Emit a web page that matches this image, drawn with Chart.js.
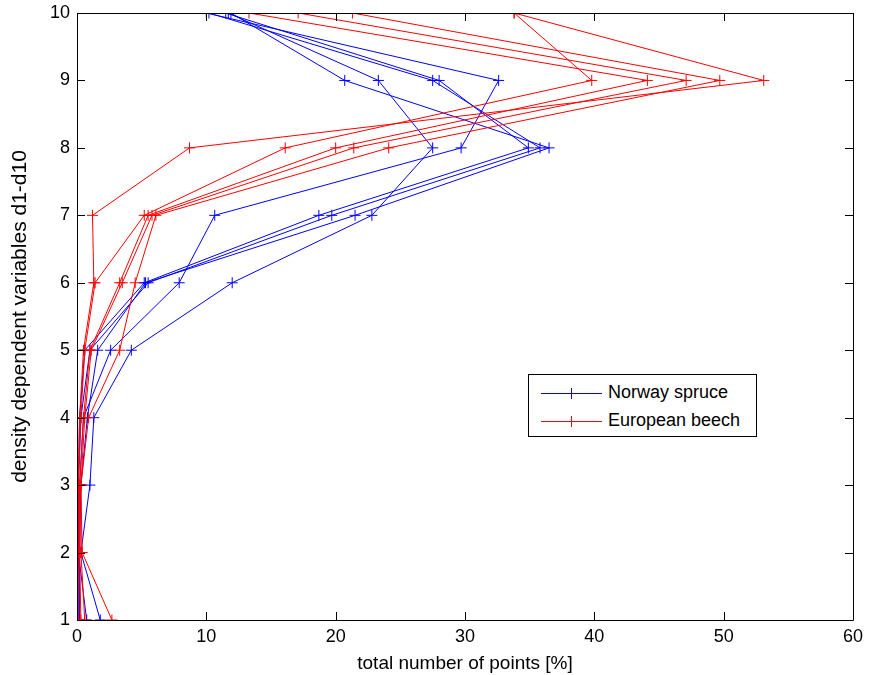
<!DOCTYPE html>
<html>
<head>
<meta charset="utf-8">
<script src="https://cdn.jsdelivr.net/npm/chart.js@4"></script>
<style>
    body{ margin:0; background:#fff; }
    #wrap{ position:relative; width:876px; height:675px; }
    #legend{
        position:absolute; left:528px; top:374px; width:227px; height:61px;
        border:1px solid #000; background:#fff;
        font-family:"Liberation Sans", Arial, sans-serif; font-size:18px; color:#000;
    }
    .row{ position:absolute; left:0; height:20px; }
    .row .ln{ position:absolute; left:12px; top:10px; width:61px; height:1px; }
    .row .vt{ position:absolute; left:42px; top:5px; width:1px; height:11px; }
    .row .tx{ position:absolute; left:79px; top:-1px; white-space:nowrap; }
</style>
</head>
<body>
<div id="wrap">
    <canvas id="chart" width="876" height="675"></canvas>
    <div id="legend">
        <div class="row" style="top:8px"><div class="ln" style="background:#0000ff"></div><div class="vt" style="background:#0000ff"></div><div class="tx">Norway spruce</div></div>
        <div class="row" style="top:36px"><div class="ln" style="background:#ff0000"></div><div class="vt" style="background:#ff0000"></div><div class="tx">European beech</div></div>
    </div>
</div>
<script>
// density variables d1..d10 (y axis)
const levels = [1, 2, 3, 4, 5, 6, 7, 8, 9, 10];

// total number of points [%] per level, one array per plot
const spruceA = [0.2, 0.2, 0.3, 0.8, 1.6, 5.3, 21.5, 36.5, 20.7, 11.9];
const spruceB = [1.8, 0.3, 1.0, 1.3, 4.2, 12.0, 22.8, 27.5, 23.3, 11.7];
const spruceC = [0.75, 0.1, 0.2, 0.5, 2.6, 7.9, 10.65, 29.7, 32.6, 10.0];
const spruceD = [0.0, 0.1, 0.1, 0.3, 1.0, 5.5, 19.7, 35.8, 27.5, 10.2];
const spruceE = [0.1, 0.1, 0.1, 0.2, 0.6, 5.2, 18.7, 34.9, 28.0, 11.5];

const beechA = [0.3, 0.2, 0.2, 0.5, 1.0, 3.3, 5.5, 20.0, 44.1, 13.3];
const beechB = [0.6, 0.3, 0.3, 0.6, 1.1, 3.5, 5.8, 21.4, 47.1, 17.1];
const beechC = [2.7, 0.4, 0.3, 0.9, 3.3, 4.5, 6.1, 24.1, 49.7, 21.3];
const beechD = [0.1, 0.1, 0.1, 0.3, 0.6, 1.4, 5.2, 16.1, 39.8, 33.8];
const beechE = [0.0, 0.0, 0.1, 0.2, 0.5, 1.3, 1.2, 8.7, 53.1, 33.8];

const spruceSets = [spruceA, spruceB, spruceC, spruceD, spruceE];
const beechSets = [beechA, beechB, beechC, beechD, beechE];

const xTicks = [0, 10, 20, 30, 40, 50, 60];

const FONT = "'Liberation Sans', Arial, sans-serif";

function makeSet(label, values, color, order){
    return {
        label: label,
        data: values.map((v, i) => ({x: v, y: levels[i]})),
        showLine: true,
        borderColor: color,
        backgroundColor: color,
        borderWidth: 1,
        pointStyle: 'cross',
        pointRadius: 5.5,
        pointHoverRadius: 5.5,
        pointBorderColor: color,
        pointBorderWidth: 1,
        order: order
    };
}

const datasets = [];
spruceSets.forEach(s => datasets.push(makeSet('Norway spruce', s, '#0000ff', 1)));
beechSets.forEach(s => datasets.push(makeSet('European beech', s, '#ff0000', 0)));

// matlab style box with inward ticks
const boxPlugin = {
    id: 'box',
    afterDatasetsDraw(chart){
        const ctx = chart.ctx;
        const a = chart.chartArea;
        const xs = chart.scales.x, ys = chart.scales.y;
        const tl = 8;
        ctx.save();
        ctx.strokeStyle = '#000';
        ctx.lineWidth = 1;
        ctx.beginPath();
        ctx.rect(a.left + 0.5, a.top + 0.5, a.right - a.left, a.bottom - a.top);
        xTicks.forEach(v => {
            const px = Math.round(xs.getPixelForValue(v)) + 0.5;
            ctx.moveTo(px, a.bottom); ctx.lineTo(px, a.bottom - tl);
            ctx.moveTo(px, a.top); ctx.lineTo(px, a.top + tl);
        });
        levels.forEach(v => {
            const py = Math.round(ys.getPixelForValue(v)) + 0.5;
            ctx.moveTo(a.left, py); ctx.lineTo(a.left + tl, py);
            ctx.moveTo(a.right, py); ctx.lineTo(a.right - tl, py);
        });
        ctx.stroke();
        ctx.restore();
    }
};

const ctx = document.getElementById('chart');

const config = {
    type: 'scatter',
    data: { datasets: datasets },
    options: {
        responsive: false,
        animation: false,
        events: [],
        layout: { padding: { top: 13, right: 23, left: 0, bottom: 0 } },
        plugins: {
            legend: { display: false },
            tooltip: { enabled: false }
        },
        scales: {
            x: {
                type: 'linear',
                min: 0, max: 60,
                afterBuildTicks: s => { s.ticks = xTicks.map(v => ({value: v})); },
                afterFit: s => { s.height = 55; s.paddingLeft = 0; s.paddingRight = 0; },
                grid: { display: false, drawTicks: false },
                border: { display: false },
                ticks: { color: '#000', padding: 6, font: { family: FONT, size: 18 } },
                title: {
                    display: true,
                    text: 'total number of points [%]',
                    color: '#000',
                    font: { family: FONT, size: 19 },
                    padding: { top: 0, bottom: 0 }
                }
            },
            y: {
                type: 'linear',
                min: 1, max: 10,
                afterBuildTicks: s => { s.ticks = levels.map(v => ({value: v})); },
                afterFit: s => { s.width = 77; s.paddingTop = 0; s.paddingBottom = 0; },
                grid: { display: false, drawTicks: false },
                border: { display: false },
                ticks: { color: '#000', padding: 7, font: { family: FONT, size: 18 } },
                title: {
                    display: true,
                    text: 'density dependent variables d1-d10',
                    color: '#000',
                    font: { family: FONT, size: 21 },
                    padding: { top: 8, bottom: 0 }
                }
            }
        }
    },
    plugins: [boxPlugin]
};

const chart = new Chart(ctx, config);
</script>
</body>
</html>
